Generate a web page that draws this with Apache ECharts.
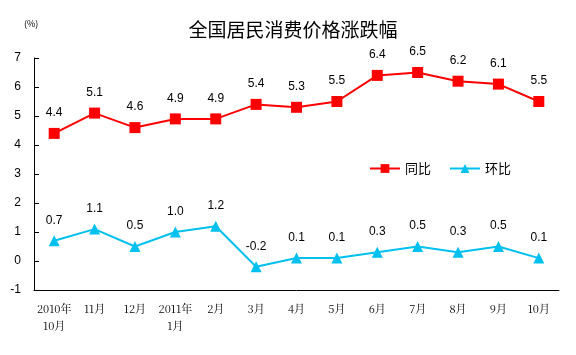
<!DOCTYPE html>
<html><head><meta charset="utf-8">
<script src="https://cdn.jsdelivr.net/npm/echarts@6/dist/echarts.min.js"></script>
<style>html,body{margin:0;padding:0;background:#fff}#c{width:576px;height:355px}</style>
</head><body><div id="c"></div>
<script>
var categories = ["2010年\n10月","11月","12月","2011年\n1月","2月","3月","4月","5月","6月","7月","8月","9月","10月"];
var yoy = [4.4,5.1,4.6,4.9,4.9,5.4,5.3,5.5,6.4,6.5,6.2,6.1,5.5];
var mom = [0.7,1.1,0.5,1.0,1.2,-0.2,0.1,0.1,0.3,0.5,0.3,0.5,0.1];
var yTicks = [-1,0,1,2,3,4,5,6,7];

var chart = echarts.init(document.getElementById('c'));
var lbl = {show:true,position:'top',distance:9,color:'#000',fontFamily:'Arial, "Liberation Sans"',fontSize:12,
  formatter:function(p){return p.value.toFixed(1);}};
chart.setOption({
  animation:false,
  title:[{text:'全国居民消费价格涨跌幅',left:288,top:15,textAlign:'center',
    textStyle:{fontSize:19,fontWeight:'normal',color:'#000',fontFamily:'"Noto Sans CJK SC"'}},
    {text:'(%)',left:19,top:14,textStyle:{fontSize:9,fontWeight:'normal',color:'#000',fontFamily:'"Noto Sans CJK SC"'}}],
  legend:{left:364,top:157,itemWidth:30,itemHeight:11,itemGap:18,
    textStyle:{fontSize:13,color:'#000',fontFamily:'"Noto Sans CJK SC"'},
    data:['同比','环比']},
  grid:{left:34,right:17,top:58,bottom:65},
  xAxis:{type:'category',data:categories,boundaryGap:true,
    axisLine:{onZero:false,lineStyle:{color:'#000',width:1}},
    axisTick:{inside:true,length:5,lineStyle:{color:'#000'}},
    axisLabel:{color:'#000',fontSize:11,lineHeight:17,margin:10,interval:0,fontFamily:'"Noto Serif CJK SC","Noto Sans CJK SC"'}},
  yAxis:{type:'value',min:-1,max:7,interval:1,
    axisLine:{show:true,lineStyle:{color:'#000',width:1}},
    axisTick:{show:true,inside:true,length:5,lineStyle:{color:'#000'}},
    splitLine:{show:false},
    axisLabel:{color:'#000',fontSize:12,margin:13,fontFamily:'Arial, "Liberation Sans"'}},
  series:[
    {name:'同比',type:'line',data:yoy,symbol:'rect',symbolSize:11,
      lineStyle:{color:'#FF0000',width:2},itemStyle:{color:'#FF0000'},label:lbl},
    {name:'环比',type:'line',data:mom,symbol:'triangle',symbolSize:11,
      lineStyle:{color:'#00C0F0',width:2},itemStyle:{color:'#00C0F0'},label:lbl}
  ]
});
</script></body></html>
